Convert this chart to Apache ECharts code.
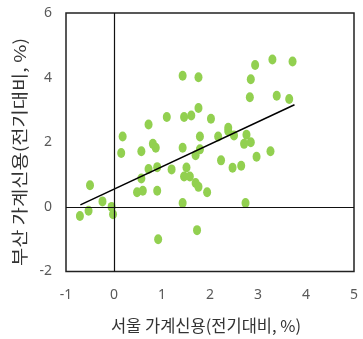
<!DOCTYPE html>
<html>
<head>
<meta charset="utf-8">
<script src="https://cdn.jsdelivr.net/npm/echarts@6/dist/echarts.min.js"></script>
<style>
html,body{margin:0;padding:0;background:#fff;}
#c{width:363px;height:339px;}
</style>
</head>
<body>
<div id="c"></div>
<script>
var seoulX = [1.43,1.76,2.94,3.30,3.72,2.85,2.83,3.39,3.65,1.76,1.10,1.46,1.61,2.02,0.72,0.18,1.79,2.17,2.38,2.38,2.50,2.76,2.71,2.85,3.26,2.97,0.81,0.87,0.15,0.57,1.43,1.79,1.70,2.23,2.47,2.65,0.72,0.90,1.20,1.51,1.46,1.58,0.57,-0.50,1.70,1.76,1.94,0.48,0.60,0.90,-0.24,1.43,2.74,-0.05,-0.02,-0.53,-0.71,1.73,0.92];
var busanY = [4.06,4.01,4.39,4.56,4.50,3.95,3.39,3.44,3.34,3.06,2.78,2.78,2.83,2.73,2.55,2.18,2.18,2.18,2.45,2.35,2.21,2.23,1.95,2.00,1.72,1.55,1.95,1.83,1.67,1.72,1.83,1.78,1.60,1.44,1.21,1.27,1.17,1.23,1.16,1.22,0.94,0.94,0.88,0.67,0.74,0.62,0.45,0.45,0.50,0.50,0.17,0.12,0.12,0.00,-0.23,-0.12,-0.28,-0.72,-1.00];
var trendX = [-0.70, 3.76];
var trendY = [0.06, 3.16];
var xTitle = '서울 가계신용(전기대비, %)';
var yTitle = '부산 가계신용(전기대비, %)';

var pts = seoulX.map(function(x,i){return [x, busanY[i]];});
var trend = trendX.map(function(x,i){return [x, trendY[i]];});

var chart = echarts.init(document.getElementById('c'), null, {renderer:'canvas'});
var labelStyle = {color:'#595959', fontSize:14, fontFamily:'Liberation Sans Narrow, Noto Sans, sans-serif'};
chart.setOption({
  animation:false,
  backgroundColor:'#fff',
  grid:{left:66,right:9,top:13,bottom:67,show:true,borderColor:'#222',borderWidth:1.5,backgroundColor:'transparent'},
  graphic:[{
    type:'text', x:20, y:152, rotation:Math.PI/2, scaleX:1.2, scaleY:1,
    style:{text:yTitle, fill:'#333', font:'16.5px "Noto Sans CJK KR", sans-serif', align:'center', verticalAlign:'middle'}
  }],
  xAxis:{type:'value',min:-1,max:5,interval:1,
    axisLine:{show:false,onZero:false},axisTick:{show:false},splitLine:{show:false},
    axisLabel:Object.assign({margin:17},labelStyle),
    name:xTitle,nameLocation:'middle',nameGap:46,
    nameTextStyle:{color:'#333',fontSize:16.5,fontFamily:'Noto Sans CJK KR, sans-serif',padding:[0,8,0,0]}},
  yAxis:{type:'value',min:-2,max:6,interval:2,
    axisLine:{show:false,onZero:false},axisTick:{show:false},splitLine:{show:false},
    axisLabel:Object.assign({margin:14},labelStyle)},
  series:[
    {type:'scatter',data:pts,symbol:'circle',symbolSize:[8,10],
     itemStyle:{color:'#92D050',opacity:1},z:3,
     markLine:{silent:true,symbol:['none','none'],label:{show:false},
       lineStyle:{color:'#111',width:1.2,type:'solid'},
       data:[{xAxis:0},{yAxis:0}]}},
    {type:'line',data:trend,showSymbol:false,symbol:'none',
     lineStyle:{color:'#000',width:1.5},z:4}
  ]
});
</script>
</body>
</html>
